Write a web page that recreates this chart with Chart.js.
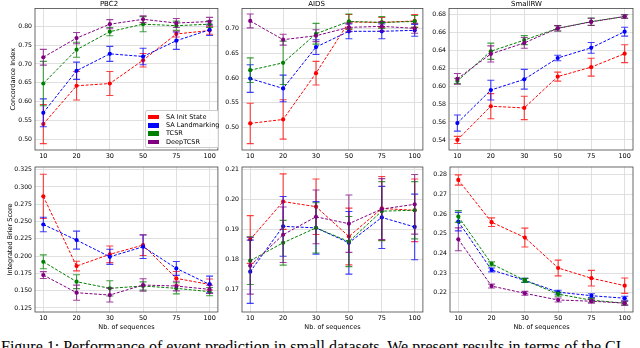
<!DOCTYPE html>
<html lang="en">
<head>
<meta charset="UTF-8" />
<title>Event prediction in small datasets</title>
<script src="https://cdn.jsdelivr.net/npm/chart.js"></script>
<style>
  body {
    margin: 0;
    width: 640px;
    height: 348px;
    overflow: hidden;
    position: relative;
    background: #fff;
    font-family: 'DejaVu Sans', sans-serif;
  }
  .panel { position: absolute; }
  .legend {
    position: absolute;
    left: 145px;
    top: 110px;
    width: 70px;
    padding: 2px 0 1px 2px;
    border: 1px solid #ccc;
    border-radius: 2px;
    background: rgba(255, 255, 255, 0.85);
    font-size: 6.5px;
    color: #000;
  }
  .legend div { height: 8.2px; line-height: 8.2px; white-space: nowrap; }
  .legend span.sw {
    display: inline-block;
    width: 11px;
    height: 4.5px;
    margin-right: 7px;
    vertical-align: middle;
  }
  .caption {
    position: absolute;
    left: 1px;
    top: 338px;
    font-family: 'Liberation Serif', serif;
    font-size: 16px;
    line-height: 18px;
    white-space: nowrap;
    color: #000;
  }
</style>
</head>
<body>

<div class="legend" id="legend"></div>
<div class="caption">Figure 1: Performance of event prediction in small datasets. We present results in terms of the CI</div>

<script>
  const seqLabels = ['10', '20', '30', '50', '75', '100'];
  const methods = ['SA Init State', 'SA Landmarking', 'TCSR', 'DeepTCSR'];
  const colors = ['#ff0000', '#0000ff', '#008000', '#800080'];

  // concordance index, rows = methods
  const pbc2CI = [
    [0.540, 0.642, 0.648, 0.710, 0.780, 0.789],
    [0.570, 0.682, 0.727, 0.720, 0.762, 0.791],
    [0.648, 0.738, 0.786, 0.806, 0.802, 0.806],
    [0.718, 0.769, 0.806, 0.819, 0.809, 0.813]
  ];
  const pbc2CIErr = [
    [0.052, 0.038, 0.032, 0.018, 0.008, 0.010],
    [0.037, 0.023, 0.020, 0.022, 0.023, 0.015],
    [0.059, 0.020, 0.011, 0.020, 0.012, 0.009],
    [0.021, 0.015, 0.012, 0.009, 0.012, 0.011]
  ];
  const aidsCI = [
    [0.508, 0.516, 0.610, 0.714, 0.713, 0.716],
    [0.599, 0.579, 0.663, 0.695, 0.695, 0.697],
    [0.616, 0.631, 0.690, 0.715, 0.713, 0.715],
    [0.716, 0.678, 0.686, 0.703, 0.705, 0.701]
  ];
  const aidsCIErr = [
    [0.041, 0.040, 0.024, 0.015, 0.010, 0.013],
    [0.028, 0.027, 0.015, 0.015, 0.015, 0.012],
    [0.025, 0.044, 0.021, 0.015, 0.012, 0.012],
    [0.014, 0.011, 0.012, 0.009, 0.010, 0.010]
  ];
  const smallrwCI = [
    [0.540, 0.5775, 0.5756, 0.6105, 0.621, 0.636],
    [0.5588, 0.5955, 0.6075, 0.6312, 0.6425, 0.6605],
    [0.6057, 0.6387, 0.6511, 0.6642, 0.6717, 0.6774],
    [0.608, 0.6357, 0.648, 0.6642, 0.6714, 0.6774]
  ];
  const smallrwCIErr = [
    [0.004, 0.014, 0.013, 0.005, 0.010, 0.010],
    [0.009, 0.011, 0.011, 0.003, 0.006, 0.005],
    [0.003, 0.009, 0.005, 0.003, 0.004, 0.002],
    [0.006, 0.009, 0.006, 0.003, 0.004, 0.002]
  ];

  // integrated brier score
  const pbc2IBS = [
    [0.2864, 0.1856, 0.2026, 0.2159, 0.1678, 0.159],
    [0.2457, 0.2231, 0.199, 0.2135, 0.1822, 0.159],
    [0.1918, 0.163, 0.1534, 0.1568, 0.1534, 0.1486],
    [0.1726, 0.1471, 0.1437, 0.1582, 0.1567, 0.1519]
  ];
  const pbc2IBSErr = [
    [0.032, 0.007, 0.012, 0.015, 0.010, 0.008],
    [0.0105, 0.013, 0.011, 0.017, 0.010, 0.012],
    [0.010, 0.010, 0.011, 0.006, 0.008, 0.006],
    [0.005, 0.011, 0.010, 0.009, 0.007, 0.006]
  ];
  const aidsIBS = [
    [0.1866, 0.1993, 0.1976, 0.1876, 0.197, 0.1964],
    [0.1758, 0.191, 0.1905, 0.1855, 0.194, 0.1908],
    [0.1795, 0.1855, 0.1905, 0.1859, 0.1961, 0.1964],
    [0.1778, 0.1882, 0.1942, 0.1919, 0.1968, 0.1984]
  ];
  const aidsIBSErr = [
    [0.008, 0.0093, 0.0093, 0.0095, 0.0107, 0.0105],
    [0.0106, 0.010, 0.0088, 0.0105, 0.0104, 0.011],
    [0.008, 0.0075, 0.0084, 0.0084, 0.0099, 0.0096],
    [0.0095, 0.0093, 0.009, 0.0096, 0.0102, 0.010]
  ];
  const smallrwIBS = [
    [0.2774, 0.2559, 0.2481, 0.2326, 0.2274, 0.2236],
    [0.2562, 0.2316, 0.2263, 0.2203, 0.2185, 0.2172],
    [0.2588, 0.2347, 0.2263, 0.2193, 0.2162, 0.2147],
    [0.2472, 0.2234, 0.2197, 0.2163, 0.2157, 0.2147]
  ];
  const smallrwIBSErr = [
    [0.0026, 0.0022, 0.0048, 0.004, 0.004, 0.0039],
    [0.0047, 0.001, 0.001, 0.001, 0.001, 0.001],
    [0.003, 0.001, 0.001, 0.001, 0.001, 0.001],
    [0.0058, 0.001, 0.001, 0.001, 0.001, 0.001]
  ];

  // y tick labels
  const pbc2CITicks = [0.50, 0.55, 0.60, 0.65, 0.70, 0.75, 0.80];
  const aidsCITicks = [0.50, 0.55, 0.60, 0.65, 0.70];
  const smallrwCITicks = [0.54, 0.56, 0.58, 0.60, 0.62, 0.64, 0.66, 0.68];
  const pbc2IBSTicks = [0.125, 0.150, 0.175, 0.200, 0.225, 0.250, 0.275, 0.300, 0.325];
  const aidsIBSTicks = [0.17, 0.18, 0.19, 0.20, 0.21];
  const smallrwIBSTicks = [0.22, 0.23, 0.24, 0.25, 0.26, 0.27, 0.28];

  const FONT = "'DejaVu Sans', sans-serif";

  // legend
  document.getElementById('legend').innerHTML = methods.map((m, k) =>
    `<div><span class="sw" style="background:${colors[k]}"></span>${m}</div>`).join('');

  // error bars, drawn just before each line so markers sit on top
  const errorBars = {
    id: 'errorBars',
    beforeDatasetDraw(chart, args) {
      const ds = chart.data.datasets[args.index];
      const y = chart.scales.y;
      const ctx = chart.ctx;
      ctx.save();
      ctx.strokeStyle = ds.borderColor;
      ctx.globalAlpha = 0.75;
      ctx.lineWidth = 1.1;
      args.meta.data.forEach((pt, i) => {
        const v = ds.data[i].y, e = ds.errors[i];
        const top = y.getPixelForValue(v + e), bot = y.getPixelForValue(v - e);
        ctx.beginPath();
        ctx.moveTo(pt.x, top); ctx.lineTo(pt.x, bot);
        ctx.moveTo(pt.x - 3.5, top); ctx.lineTo(pt.x + 3.5, top);
        ctx.moveTo(pt.x - 3.5, bot); ctx.lineTo(pt.x + 3.5, bot);
        ctx.stroke();
      });
      ctx.restore();
    }
  };

  // box around the axes
  const frame = {
    id: 'frame',
    afterDraw(chart) {
      const a = chart.chartArea, ctx = chart.ctx;
      ctx.save();
      ctx.strokeStyle = '#444';
      ctx.lineWidth = 0.8;
      ctx.strokeRect(a.left, a.top, a.right - a.left, a.bottom - a.top);
      ctx.restore();
    }
  };

  function makePanel(p) {
    const box = document.createElement('div');
    box.className = 'panel';
    box.style.left = p.left + 'px';
    box.style.top = p.top + 'px';
    box.style.width = p.width + 'px';
    box.style.height = p.height + 'px';
    const cv = document.createElement('canvas');
    cv.width = p.width;
    cv.height = p.height;
    box.appendChild(cv);
    document.body.appendChild(box);

    new Chart(cv.getContext('2d'), {
      type: 'line',
      data: {
        datasets: methods.map((m, k) => ({
          label: m,
          data: p.means[k].map((v, i) => ({ x: i, y: v })),
          errors: p.errs[k],
          borderColor: colors[k],
          backgroundColor: colors[k],
          borderWidth: 1,
          borderDash: [3, 1.6],
          pointRadius: 2.1,
          pointBorderWidth: 0,
          pointHoverRadius: 2.1,
          fill: false,
          tension: 0,
          order: 3 - k
        }))
      },
      options: {
        responsive: false,
        animation: false,
        events: [],
        layout: { padding: { top: p.padTop, right: p.padRight, left: 0, bottom: 0 } },
        plugins: {
          legend: { display: false },
          tooltip: { enabled: false },
          title: {
            display: !!p.title,
            text: p.title,
            color: '#000',
            font: { family: FONT, size: 7, weight: 'normal' },
            padding: { top: 0, bottom: 0 }
          }
        },
        scales: {
          x: {
            type: 'linear',
            min: -0.25,
            max: 5.25,
            afterBuildTicks: s => { s.ticks = seqLabels.map((l, i) => ({ value: i })); },
            afterFit: s => { s.height = p.xH; },
            ticks: {
              callback: v => seqLabels[v],
              autoSkip: false,
              maxRotation: 0,
              padding: 2,
              color: '#000',
              font: { family: FONT, size: 6.5 }
            },
            grid: { color: '#dcdcdc', lineWidth: 0.9, drawTicks: false },
            border: { display: false },
            title: {
              display: !!p.xTitle,
              text: 'Nb. of sequences',
              color: '#000',
              font: { family: FONT, size: 6.5 },
              padding: { top: 0, bottom: 4 }
            }
          },
          y: {
            min: p.yMin,
            max: p.yMax,
            afterBuildTicks: s => { s.ticks = p.ticks.map(v => ({ value: v })); },
            afterFit: s => { s.width = p.yW; },
            ticks: {
              callback: v => v.toFixed(p.dec),
              padding: 3,
              color: '#000',
              font: { family: FONT, size: 6.2 }
            },
            grid: { color: '#dcdcdc', lineWidth: 0.9, drawTicks: false },
            border: { display: false },
            title: {
              display: !!p.yTitle,
              text: p.yTitle,
              color: '#000',
              font: { family: FONT, size: 6.5 },
              padding: { top: p.yTitlePad || 0, bottom: 0 }
            }
          }
        }
      },
      plugins: [errorBars, frame]
    });
  }

  const topRow = { top: 0, height: 160, padTop: 0, xH: 10 };
  const botRow = { top: 160, height: 175, padTop: 7, xH: 23, xTitle: true };

  makePanel({ ...topRow, left: 0, width: 220, yW: 35, padRight: 2, title: 'PBC2',
    yTitle: 'Concordance Index', yTitlePad: 9, means: pbc2CI, errs: pbc2CIErr,
    yMin: 0.471, yMax: 0.848, ticks: pbc2CITicks, dec: 2 });
  makePanel({ ...topRow, left: 210, width: 215, yW: 32, padRight: 2, title: 'AIDS',
    means: aidsCI, errs: aidsCIErr,
    yMin: 0.454, yMax: 0.7415, ticks: aidsCITicks, dec: 2 });
  makePanel({ ...topRow, left: 420, width: 220, yW: 29, padRight: 7, title: 'SmallRW',
    means: smallrwCI, errs: smallrwCIErr,
    yMin: 0.5288, yMax: 0.6864, ticks: smallrwCITicks, dec: 2 });

  makePanel({ ...botRow, left: 0, width: 220, yW: 35, padRight: 2,
    yTitle: 'Integrated Brier Score', yTitlePad: 6, means: pbc2IBS, errs: pbc2IBSErr,
    yMin: 0.1192, yMax: 0.3288, ticks: pbc2IBSTicks, dec: 3 });
  makePanel({ ...botRow, left: 210, width: 215, yW: 32, padRight: 2,
    means: aidsIBS, errs: aidsIBSErr,
    yMin: 0.1623, yMax: 0.2109, ticks: aidsIBSTicks, dec: 2 });
  makePanel({ ...botRow, left: 420, width: 220, yW: 30, padRight: 7,
    means: smallrwIBS, errs: smallrwIBSErr,
    yMin: 0.2102, yMax: 0.284, ticks: smallrwIBSTicks, dec: 2 });

  // keep the legend above the first panel
  document.body.appendChild(document.getElementById('legend'));
</script>
</body>
</html>
